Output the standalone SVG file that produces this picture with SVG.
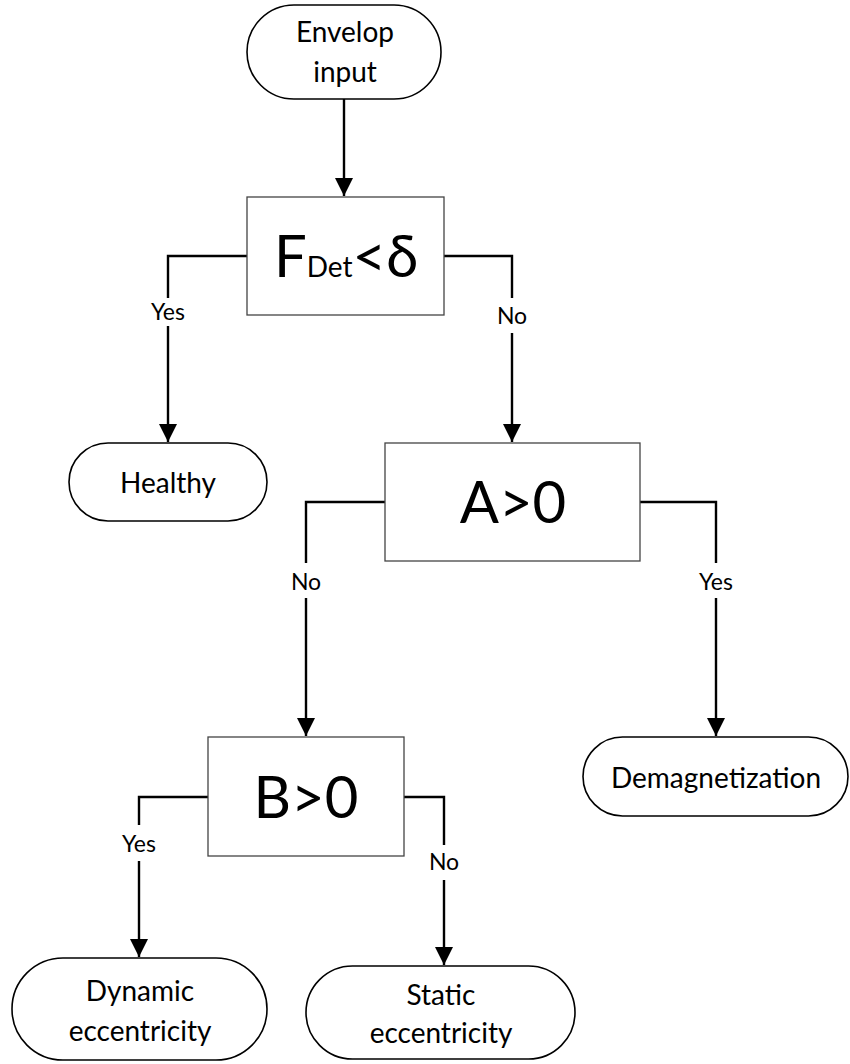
<svg xmlns="http://www.w3.org/2000/svg" width="850" height="1064" viewBox="0 0 850 1064">
<style>
.term{fill:#fff;stroke:#000;stroke-width:1.6}
.dec{fill:#fff;stroke:#444;stroke-width:1.3}
.t{font-family:Lato,"Liberation Sans",sans-serif;font-size:28px;fill:#000;text-anchor:middle}
.big{font-family:Lato,"Liberation Sans",sans-serif;font-size:58px;fill:#000;text-anchor:middle}
.lbl{font-family:Lato,"Liberation Sans",sans-serif;font-size:23px;fill:#000;text-anchor:middle}
.c{fill:none;stroke:#000;stroke-width:2.4}
</style>
<defs>
<marker id="ah" markerWidth="18" markerHeight="18" viewBox="0 0 18 18" refX="18" refY="9" orient="auto" markerUnits="userSpaceOnUse">
<path d="M0,0 L18,9 L0,18 Z" fill="#000"/>
</marker>
</defs>
<rect width="850" height="1064" fill="#fff"/>
<g id="connectors">
<path class="c" d="M344,99 V196" marker-end="url(#ah)"/>
<path class="c" d="M247,256 H168 V298"/>
<path class="c" d="M168,326 V442" marker-end="url(#ah)"/>
<path class="c" d="M444,256 H512 V298"/>
<path class="c" d="M512,333 V442" marker-end="url(#ah)"/>
<path class="c" d="M385,502 H306 V563"/>
<path class="c" d="M306,598 V736" marker-end="url(#ah)"/>
<path class="c" d="M640,502 H716 V563"/>
<path class="c" d="M716,598 V736" marker-end="url(#ah)"/>
<path class="c" d="M208,797 H139 V825"/>
<path class="c" d="M139,861 V957" marker-end="url(#ah)"/>
<path class="c" d="M404,797 H444 V845"/>
<path class="c" d="M444,880 V965" marker-end="url(#ah)"/>
<text class="lbl" x="168" y="320">Yes</text>
<text class="lbl" x="512" y="324">No</text>
<text class="lbl" x="306" y="590">No</text>
<text class="lbl" x="716" y="590">Yes</text>
<text class="lbl" x="139" y="852">Yes</text>
<text class="lbl" x="444" y="870">No</text>
</g>
<g id="start">
<rect class="term" x="247" y="5" width="194" height="94" rx="47"/>
<text class="t" x="345" y="42">Envelop</text>
<text class="t" x="345" y="82">input</text>
</g>
<g id="decF">
<rect class="dec" x="247" y="197" width="197" height="118"/>
<text class="big" x="346" y="277">F<tspan font-size="28">Det</tspan>&lt;δ</text>
</g>
<g id="healthy">
<rect class="term" x="69" y="443" width="198" height="78" rx="39"/>
<text class="t" x="168" y="493">Healthy</text>
</g>
<g id="decA">
<rect class="dec" x="385" y="443" width="255" height="118"/>
<text class="big" x="513" y="523">A&gt;0</text>
</g>
<g id="demag">
<rect class="term" x="583" y="737" width="265" height="79" rx="39.5"/>
<text class="t" x="716" y="788">Demagnetization</text>
</g>
<g id="decB">
<rect class="dec" x="208" y="737" width="196" height="119"/>
<text class="big" x="306" y="818">B&gt;0</text>
</g>
<g id="dynamic">
<rect class="term" x="12" y="958" width="255" height="102" rx="51"/>
<text class="t" x="140" y="1001">Dynamic</text>
<text class="t" x="140" y="1041">eccentricity</text>
</g>
<g id="static">
<rect class="term" x="306" y="966" width="269" height="93" rx="46.5"/>
<text class="t" x="441" y="1005">Static</text>
<text class="t" x="441" y="1043">eccentricity</text>
</g>
</svg>
